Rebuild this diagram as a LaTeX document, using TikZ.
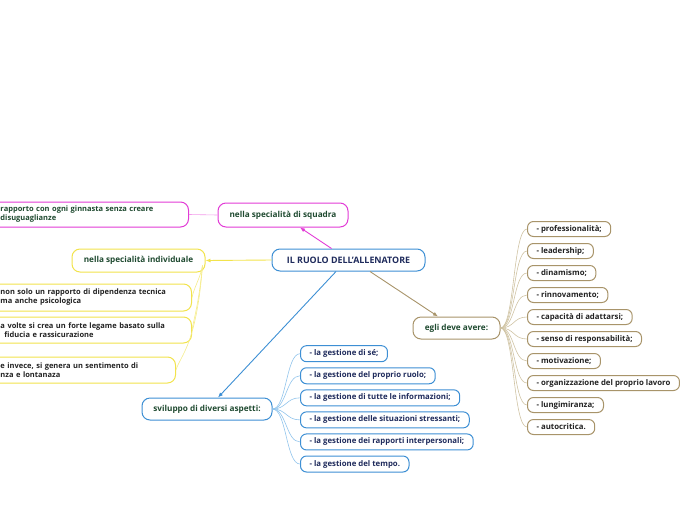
\documentclass[tikz,border=0pt]{standalone}
\usepackage{fontspec}
\setmainfont{Open Sans}
\usetikzlibrary{arrows.meta}
\definecolor{mag}{HTML}{E23BD6}
\definecolor{magl}{HTML}{F29BEA}
\definecolor{yel}{HTML}{F2E34C}
\definecolor{yell}{HTML}{F5EC8A}
\definecolor{blu}{HTML}{3D8FD4}
\definecolor{blul}{HTML}{92C5EC}
\definecolor{brn}{HTML}{A8946A}
\definecolor{brnl}{HTML}{CFC3A3}
\definecolor{tgreen}{HTML}{1F4A30}
\definecolor{tnavy}{HTML}{1F2B5C}
\definecolor{tdark}{HTML}{222222}
\tikzset{
  box/.style={draw=#1, fill=white, rounded corners=8pt, line width=1pt, inner xsep=10pt, inner ysep=2pt,
    font=\fontsize{7.5}{9}\selectfont\bfseries},
  main/.style={box=#1, text=tgreen, align=center, font=\fontsize{8.2}{10}\selectfont\bfseries},
  kid/.style={box=#1, rounded corners=6pt, inner xsep=9pt, align=left, anchor=west, font=\fontsize{7.8}{9}\selectfont\bfseries},
  lkid/.style={box=#1, align=left, anchor=west, text=tdark},
  link/.style={draw=#1, line width=0.9pt, -{Latex[length=5pt,width=4pt]}},
  sub/.style={draw=#1, line width=0.6pt},
}
\begin{document}
\begin{tikzpicture}[x=1pt,y=-1pt]
\useasboundingbox (0,0) rectangle (696,520);
\clip (0,0) rectangle (696,520);
% center
\node[box=blu, text=tnavy, minimum width=153pt, minimum height=22pt, font=\fontsize{8.9}{10}\selectfont\bfseries] (ctr) at (348.5,260) {IL RUOLO DELL'ALLENATORE};
% main branches
\node[main=mag, minimum width=130pt, minimum height=24pt] (sq) at (283,215) {nella specialità di squadra};
\node[main=yel, minimum width=133pt, minimum height=23pt] (ind) at (138.5,260.5) {nella specialità individuale};
\node[main=brn, minimum width=87pt, minimum height=22pt] (eg) at (456.5,328) {egli deve avere:};
\node[main=blu, minimum width=130pt, minimum height=22pt] (sv) at (207,409) {sviluppo di diversi aspetti:};
% squadra child
\node[lkid=mag, text=tgreen, text width=178pt, minimum height=25pt] (sqc) at (-10,214.5) {rapporto con ogni ginnasta senza creare\\disuguaglianze};
% individuale children
\node[lkid=yel, text width=181pt, minimum height=27pt] (y1) at (-10,297.5) {non solo un rapporto di dipendenza tecnica\\ma anche psicologica};
\node[lkid=yel, text width=181pt, minimum height=26pt] (y2) at (-10,330) {a volte si crea un forte legame basato sulla\\\hspace*{4pt}fiducia e rassicurazione};
\node[lkid=yel, text width=165pt, minimum height=26pt] (y3) at (-10,370) {e invece, si genera un sentimento di\\nza e lontanaza};
% brown children
\foreach \n/\t [count=\k from 0] in {
 b1/{- professionalità;},
 b2/{- leadership;},
 b3/{- dinamismo;},
 b4/{- rinnovamento;},
 b5/{- capacità di adattarsi;},
 b6/{- senso di responsabilità;},
 b7/{- motivazione;},
 b8/{- organizzazione del proprio lavoro},
 b9/{- lungimiranza;},
 b10/{- autocritica.}}{
  \node[kid=brn, text=tdark, minimum height=15pt] (\n) at (527,{229+22*\k}) {\t};
  \draw[sub=brnl] (eg.east) .. controls +(14,0) and +(-14,0) .. (\n.west);
}
% blue children
\foreach \n/\t [count=\k from 0] in {
 c1/{- la gestione di sé;},
 c2/{- la gestione del proprio ruolo;},
 c3/{- la gestione di tutte le informazioni;},
 c4/{- la gestione delle situazioni stressanti;},
 c5/{- la gestione dei rapporti interpersonali;},
 c6/{- la gestione del tempo.}}{
  \node[kid=blu, text=tnavy, minimum height=16pt] (\n) at (300,{353.7+22.06*\k}) {\t};
  \draw[sub=blul] (sv.east) .. controls +(14,0) and +(-14,0) .. (\n.west);
}
% yellow child links
\draw[sub=yell] (ind.east) ++(-3,5) .. controls +(-2,12) and +(2,-10) .. (y1.east);
\draw[sub=yell] (ind.east) ++(-3,5) .. controls +(-4,40) and +(2,-12) .. (y2.east);
\draw[sub=yell] (ind.east) ++(-3,5) .. controls +(-6,80) and +(4,-14) .. (y3.east);
% squadra child link
\draw[sub=magl] (sq.west) -- (sqc.east);
% main links
\draw[link=mag] ([xshift=-17pt]ctr.north) -- ([xshift=17pt]sq.south);
\draw[link=yel] (ctr.west) -- (ind.east);
\draw[link=blu] ([xshift=-12.5pt]ctr.south) -- ([xshift=11pt]sv.north);
\draw[link=brn] ([xshift=21.5pt]ctr.south) -- ([xshift=-18.5pt]eg.north);
\end{tikzpicture}
\end{document}
